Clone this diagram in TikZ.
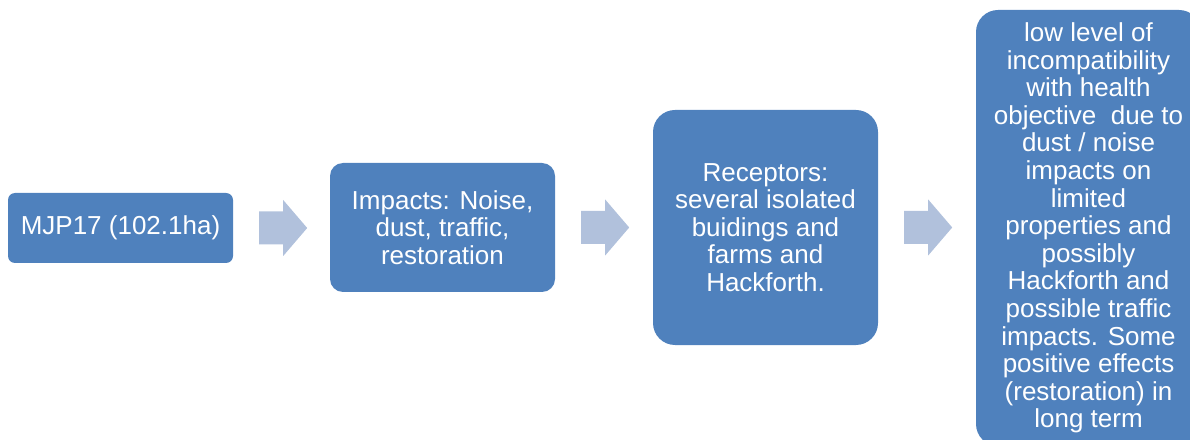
\documentclass[tikz,border=0pt]{standalone}
\usepackage{fontspec}
\setmainfont{Liberation Sans}
\definecolor{boxblue}{RGB}{79,129,189}
\definecolor{arrowblue}{RGB}{177,193,220}
\begin{document}
\begin{tikzpicture}[x=1pt,y=1pt,
  stage/.style={fill=boxblue, text=white, align=center, inner sep=0pt,
    minimum width=225pt, font=\fontsize{26}{27.6}\selectfont},
  flowarrow/.style={fill=arrowblue}]
\clip (0,0) rectangle (1190,439);
\node[stage, minimum height=70pt, rounded corners=7pt] (b1) at (120.5,211) {MJP17 (102.1ha)};
\node[stage, minimum height=129pt, rounded corners=13pt] (b2) at (442.5,211.5) {Impacts: Noise,\\dust, traffic,\\restoration};
\node[stage, minimum height=235pt, rounded corners=22pt] (b3) at (765.5,211.5) {Receptors:\\several isolated\\buidings and\\farms and\\Hackforth.};
\node[stage, minimum height=436pt, rounded corners=22pt] (b4) at (1088.5,211) {low level of\\incompatibility\\with health\\objective~ due to\\dust / noise\\impacts on\\limited\\properties and\\possibly\\Hackforth and\\possible traffic\\impacts. Some\\positive effects\\(restoration) in\\long term};
\foreach \a in {b1,b2,b3}{
  \fill[flowarrow, shift={(\a.east)}] (26,16.5) -- (50,16.5) -- (50,28) -- (74,0) -- (50,-28) -- (50,-16.5) -- (26,-16.5) -- cycle;
}
\end{tikzpicture}
\end{document}
